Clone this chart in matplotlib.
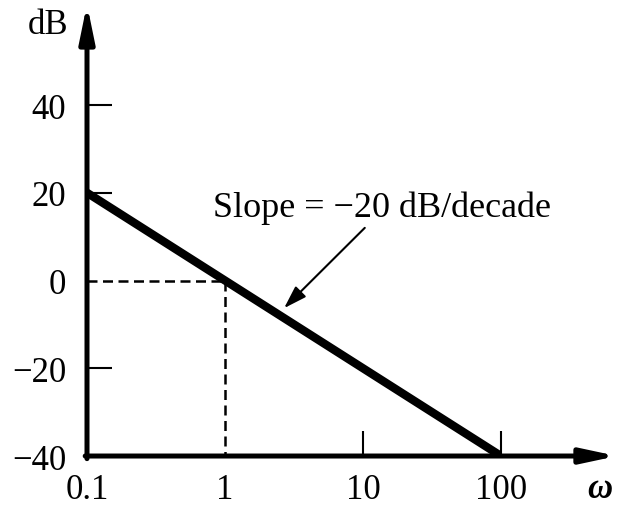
import matplotlib
matplotlib.use('Agg')
import matplotlib.pyplot as plt

# Bode magnitude asymptote of a single integrator: -20 dB/decade
w = [0.1, 100]
mag_db = [20, -40]

x_ticks = [0.1, 1, 10, 100]
x_labels = ['0.1', '1', '10', '100']
y_ticks = [-40, -20, 0, 20, 40]
y_labels = ['\u221240', '\u221220', '0', '20', '40']

crossover = 1
slope_text = 'Slope = \u221220 dB/decade'

plt.rcParams['font.family'] = ['Liberation Serif', 'DejaVu Serif']

fig = plt.figure(figsize=(6.17, 5.06), dpi=100)
ax = fig.add_axes([0.141, 0.0968, 0.671, 0.6937])
ax.set_xscale('log')
ax.set_xlim(0.1, 100)
ax.set_ylim(-40, 40)
for s in ax.spines.values():
    s.set_visible(False)

# axes drawn as arrows running past the plotting box
ax.annotate('', xy=(0.1, 63), xytext=(0.1, -40.6), annotation_clip=False,
            arrowprops=dict(arrowstyle='-|>,head_length=2.2,head_width=0.45',
                            lw=3.6, color='k', shrinkA=0, shrinkB=0))
ax.annotate('', xy=(692, -40), xytext=(0.097, -40), annotation_clip=False,
            arrowprops=dict(arrowstyle='-|>,head_length=2.1,head_width=0.45',
                            lw=3.6, color='k', shrinkA=0, shrinkB=0))

ax.set_xticks(x_ticks)
ax.set_xticklabels(x_labels)
ax.xaxis.set_minor_locator(matplotlib.ticker.NullLocator())
ax.set_yticks(y_ticks)
ax.set_yticklabels(y_labels)
ax.tick_params(axis='both', direction='in', length=18, width=1.5,
               labelsize=25, color='k')
ax.tick_params(axis='x', pad=12)
ax.tick_params(axis='y', pad=15)
ax.tick_params(top=False, right=False)

# no tick marks where the axis or the dashed guides already sit
for i, t in enumerate(ax.xaxis.get_major_ticks()):
    if x_ticks[i] in (0.1, 1):
        t.tick1line.set_visible(False)
for i, t in enumerate(ax.yaxis.get_major_ticks()):
    if y_ticks[i] in (-40, 0):
        t.tick1line.set_visible(False)

# dashed guides to the 0 dB crossing
ax.plot([0.1, crossover], [0, 0], color='k', lw=1.8, ls=(0, (4, 2.2)))
ax.plot([crossover, crossover], [0, -40], color='k', lw=1.8, ls=(0, (4, 2.2)))

ax.plot(w, mag_db, color='k', lw=6, solid_capstyle='butt')

ax.text(0.818, 14.7, slope_text, fontsize=26, va='baseline', ha='left')
ax.annotate('', xy=(2.68, -6.3), xytext=(10.3, 12.0),
            arrowprops=dict(arrowstyle='-|>,head_length=1.4,head_width=0.45',
                            lw=1.5, color='k', shrinkA=0, shrinkB=0))

fig.text(48 / 617, 1 - 25 / 506, 'dB', fontsize=25, ha='center', va='center')
fig.text(600 / 617, 1 - 498 / 506, '\u03c9', fontsize=25, style='italic',
         weight='bold', ha='center', va='baseline')

fig.savefig('out.png', dpi=100)
